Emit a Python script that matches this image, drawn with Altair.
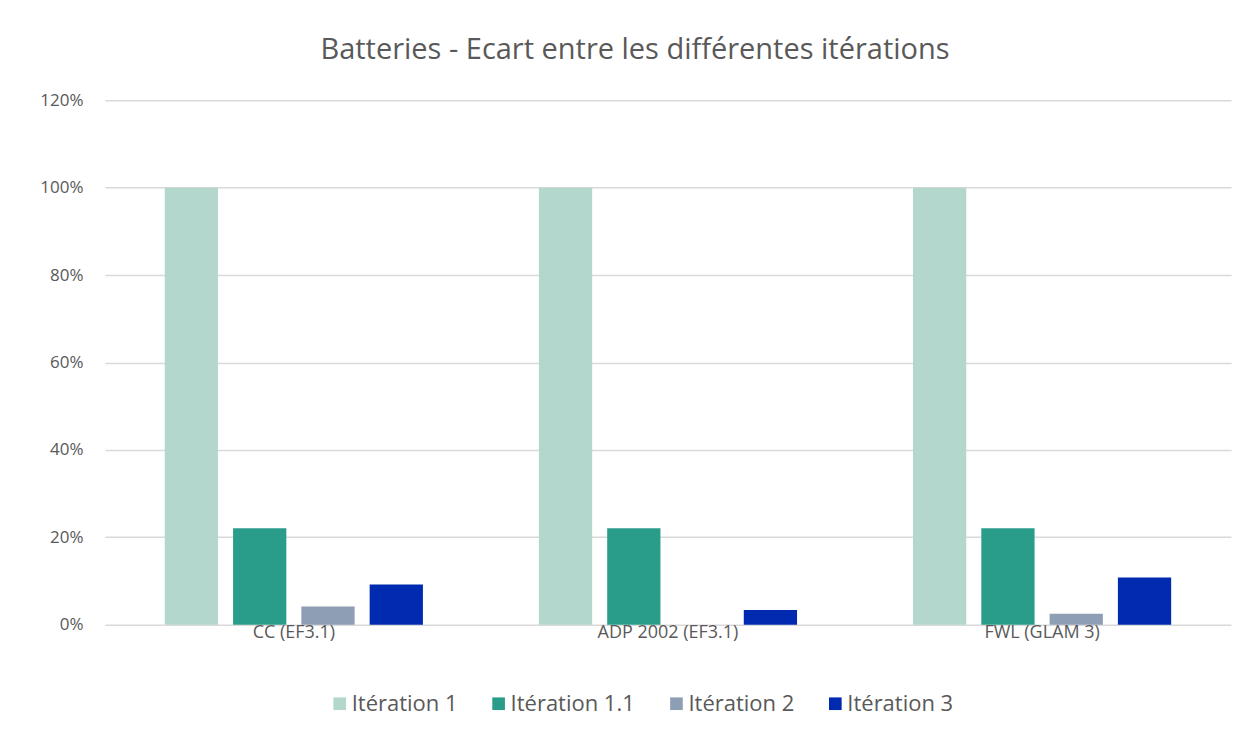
import altair as alt
import pandas as pd

categories = ["CC (EF3.1)", "ADP 2002 (EF3.1)", "FWL (GLAM 3)"]
series = ["Itération 1", "Itération 1.1", "Itération 2", "Itération 3"]
iter1 = [1.00, 1.00, 1.00]
iter11 = [0.221, 0.221, 0.221]
iter2 = [0.042, 0.0, 0.025]
iter3 = [0.092, 0.034, 0.108]
colors = ["#b3d7cc", "#2a9d8a", "#8e9eb4", "#002bb0"]

rows = []
for s, vals in zip(series, [iter1, iter11, iter2, iter3]):
    for c, v in zip(categories, vals):
        rows.append({"cat": c, "serie": s, "value": v})
df = pd.DataFrame(rows)

FONT = "Open Sans"
GREY = "#595959"

chart = alt.Chart(df).mark_bar().encode(
    x=alt.X("cat:N", sort=categories, title=None,
            scale=alt.Scale(paddingInner=0.31, paddingOuter=0.16),
            axis=alt.Axis(labelAngle=0, labelFontSize=18, labelColor=GREY, labelFont=FONT,
                          domain=False, ticks=False, labelPadding=-1)),
    xOffset=alt.XOffset("serie:N", sort=series,
                        scale=alt.Scale(paddingInner=0.22, paddingOuter=0)),
    y=alt.Y("value:Q", title=None,
            scale=alt.Scale(domain=[0, 1.2], nice=False),
            axis=alt.Axis(format=".0%", values=[0, 0.2, 0.4, 0.6, 0.8, 1.0, 1.2],
                          labelFontSize=17, labelColor=GREY, labelFont=FONT,
                          domain=False, ticks=False, labelPadding=22,
                          gridColor="#d9d9d9", gridWidth=1.5)),
    color=alt.Color("serie:N", sort=series, title=None,
                    scale=alt.Scale(domain=series, range=colors),
                    legend=alt.Legend(orient="none", direction="horizontal",
                                      legendX=224, legendY=593,
                                      symbolType="square", symbolSize=160,
                                      symbolStrokeWidth=0,
                                      labelFontSize=22, labelColor=GREY, labelFont=FONT,
                                      columnPadding=30, labelOffset=1)),
).properties(
    width=1127, height=525,
    title=alt.TitleParams("Batteries - Ecart entre les différentes itérations",
                          fontSize=29, font=FONT, fontWeight="normal", color=GREY,
                          anchor="middle", dx=-33, offset=26),
    padding={"left": 97, "top": 92, "right": 20, "bottom": 100},
    autosize=alt.AutoSizeParams(type="none"),
).configure_view(stroke=None)

chart.save("out.html", embed_options={"renderer": "svg", "actions": False})
